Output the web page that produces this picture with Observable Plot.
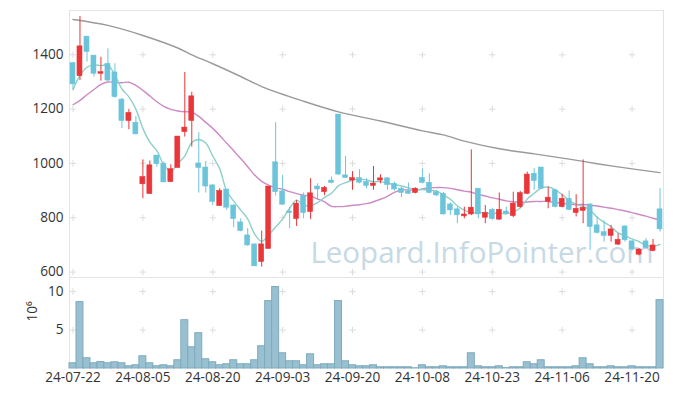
<!DOCTYPE html>
<html><head><meta charset="utf-8">
<script src="https://cdn.jsdelivr.net/npm/d3@7"></script>
<script src="https://cdn.jsdelivr.net/npm/@observablehq/plot@0.6"></script>
<style>
body{margin:0;background:#fff;}
#chart{width:673px;height:396px;position:relative;overflow:hidden;}
#chart svg{display:block;overflow:visible;}
#chart svg:first-child{position:relative;z-index:2;}
</style></head><body><div id="chart"></div>
<script>
const tickLabels = ["24-07-22","24-08-05","24-08-20","24-09-03","24-09-20","24-10-08","24-10-23","24-11-06","24-11-20"];
const tickIndex = [0,10,20,30,40,50,60,70,80];
const priceTicks = [600,800,1000,1200,1400];
const volTicks = [5,10];

const open  = [1369,1321,1467,1397,1330,1367,1335,1235,1156,1150, 923,887,1029,999,931,983,1115,1156,1000,985,
               919,843,904,845,783,735,702,637,685,1004, 897,823,795,881,821,915,894,937,1180,956,
               937,946,932,917,937,945,925,907,897,891, 947,929,894,888,849,831,805,812,907,800,
               829,793,823,806,839,888,962,985,858,901, 839,870,817,825,849,772,747,733,701,768,
               713,664,713,677,831];
const high  = [1372,1541,1467,1397,1391,1422,1367,1240,1199,1173, 1013,1009,1029,1005,995,1099,1335,1262,1113,1007,
               922,907,904,848,796,760,702,751,915,1150, 956,839,864,891,944,925,915,950,1180,1026,
               970,977,944,989,958,948,931,913,928,910, 980,962,900,893,855,839,839,1050,907,845,
               835,891,839,894,897,968,980,985,913,905, 886,898,885,1013,851,803,788,772,741,770,
               716,686,723,720,907];
const low   = [1271,1305,1373,1318,1303,1300,1240,1128,1124,1105, 870,887,986,930,931,983,1097,1060,891,891,
               845,843,827,763,748,695,621,618,685,880, 845,760,768,796,793,864,881,925,955,944,
               901,925,907,901,925,901,898,874,886,888, 925,888,878,810,809,778,796,808,796,778,
               792,790,813,800,835,885,901,905,833,836, 836,826,803,778,680,740,710,710,698,710,
               680,660,685,675,747];
const close = [1291,1431,1410,1330,1336,1305,1244,1156,1186,1107, 950,993,997,930,979,1099,1132,1247,983,915,
               858,899,837,795,751,698,621,702,915,894, 848,817,852,817,890,904,910,928,959,946,
               946,929,917,926,945,920,904,891,888,907, 928,891,882,812,827,809,812,837,812,818,
               795,829,815,852,891,959,935,907,874,839, 870,829,833,837,766,744,733,757,719,717,
               683,683,688,698,757];
const volume = [0.68,8.63,1.33,0.68,0.85,0.68,0.81,0.68,0.29,0.42, 1.59,0.68,0.29,0.42,0.29,1.07,6.28,2.76,4.59,1.20,
                0.81,0.42,0.55,1.07,0.55,0.55,1.07,2.89,8.76,10.59, 1.98,0.94,0.94,0.42,1.85,0.42,0.55,0.55,8.76,0.94,
                0.42,0.29,0.29,0.42,0.16,0.16,0.16,0.16,0.16,0.03, 0.42,0.16,0.16,0.29,0.16,0.16,0.16,1.98,0.29,0.16,
                0.16,0.29,0.05,0.16,0.16,0.81,0.55,1.07,0.16,0.16, 0.16,0.16,0.29,1.33,0.55,0.16,0.16,0.29,0.16,0.16,
                0.29,0.16,0.16,0.16,8.89];
const ma5 = [1271,1324,1354,1363,1360,1362,1325,1274,1245,1200, 1129,1078,1047,995,970,1000,1027,1077,1088,1075,
             1027,980,898,861,828,796,740,713,737,766, 796,835,865,846,845,856,875,890,918,929,
             938,942,939,933,933,927,922,917,910,902, 904,901,899,884,868,844,828,819,819,818,
             815,818,814,822,836,869,890,909,913,903, 885,864,849,842,827,802,783,767,744,734,
             722,712,698,694,702];
const ma20 = [1216,1232,1253,1272,1291,1300,1298,1297,1299,1287, 1269,1248,1227,1210,1199,1193,1190,1189,1173,1151,
              1129,1103,1074,1047,1018,988,957,934,920,910, 905,896,889,883,879,869,858,842,841,842,
              846,848,852,859,868,879,893,903,902,902, 906,910,911,911,908,903,898,894,886,880,
              873,868,862,859,856,858,860,860,860,856, 853,850,848,849,846,843,839,835,830,825,
              819,812,806,798,791];
const ma120Index = [0,5,10,15,17,20,24,27,33,38,44,50,53,56,61,66,71,75,80,84];
const ma120 = [1530,1508,1471,1425,1400,1367,1320,1283,1229,1190,1156,1120,1105,1082,1054,1035,1016,999,980,966];

const RED = "#ea3539", BLUE = "#6bc4da";
const candles = open.map((o, i) => ({i, o, h: high[i], l: low[i], c: close[i], up: close[i] > o}));
const vols = volume.map((v, i) => ({i, v}));
const ma5pts = ma5.map((v, i) => ({i, v}));
const ma20pts = ma20.map((v, i) => ({i, v}));
const ma120pts = ma120.map((v, k) => ({i: ma120Index[k], v}));
const priceGrid = tickIndex.flatMap(x => priceTicks.map(y => ({x, y})));
const volGrid = tickIndex.flatMap(x => volTicks.map(y => ({x, y})));

const W = 673, xDomain = [-0.5, 84.5];
const style = {fontFamily: "'Open Sans', sans-serif", fontSize: "13.6px", color: "#333", background: "transparent", overflow: "visible"};

const pricePlot = Plot.plot({
  width: W, height: 278, marginLeft: 69, marginRight: 10, marginTop: 10, marginBottom: 1,
  style,
  x: {domain: xDomain, axis: null},
  y: {domain: [580, 1563], ticks: priceTicks, tickSize: 0, tickPadding: 6, label: null, tickFormat: d => String(d)},
  marks: [
    Plot.frame({stroke: "#e4e4e4"}),
    Plot.dot(priceGrid, {x: "x", y: "y", symbol: "plus", r: 2.2, stroke: "#dcdcdc", strokeWidth: 1}),
    Plot.text(["Leopard.InfoPointer.com"], {text: d => d, frameAnchor: "bottom-right", lineAnchor: "bottom", textAnchor: "end", dx: -10, dy: -15, fontSize: 29.5, fill: "#c6d9e4"}),
    Plot.line(ma120pts, {x: "i", y: "v", stroke: "#9a9a9a", strokeWidth: 1.4, curve: "catmull-rom"}),
    Plot.line(ma20pts, {x: "i", y: "v", stroke: "#cd8bc4", strokeWidth: 1.4, curve: "catmull-rom"}),
    Plot.line(ma5pts, {x: "i", y: "v", stroke: "#8ed0c8", strokeWidth: 1.4, curve: "catmull-rom"}),
    Plot.ruleX(candles, {x: "i", y1: "l", y2: "h", stroke: d => d.up ? RED : BLUE, strokeWidth: 1}),
    Plot.rect(candles, {x1: d => d.i - 0.36, x2: d => d.i + 0.36, y1: d => Math.min(d.o, d.c), y2: d => Math.max(d.o, d.c), fill: d => d.up ? RED : BLUE, stroke: d => d.up ? RED : BLUE, strokeWidth: 0.5})
  ]
});

const volPlot = Plot.plot({
  width: W, height: 118, marginLeft: 69, marginRight: 10, marginTop: 0, marginBottom: 28,
  style,
  x: {domain: xDomain, ticks: tickIndex, tickFormat: i => tickLabels[tickIndex.indexOf(i)], tickSize: 0, tickPadding: 4, label: null},
  y: {domain: [0, 11.7], ticks: volTicks, tickSize: 0, tickPadding: 6, label: null},
  marks: [
    Plot.ruleX(xDomain, {stroke: "#e4e4e4"}),
    Plot.dot(volGrid, {x: "x", y: "y", symbol: "plus", r: 2.2, stroke: "#dcdcdc", strokeWidth: 1}),
    Plot.rect(vols, {x1: d => d.i - 0.5, x2: d => d.i + 0.5, y1: 0, y2: "v", fill: "#99c0d1", stroke: "#7eaabd", strokeWidth: 1}),
    Plot.text(["10⁶"], {text: d => d, frameAnchor: "left", dx: -37, dy: -2, rotate: -90, fontSize: 13.6, fill: "#333"})
  ]
});

const el = document.getElementById("chart");
el.appendChild(pricePlot);
el.appendChild(volPlot);
</script></body></html>
